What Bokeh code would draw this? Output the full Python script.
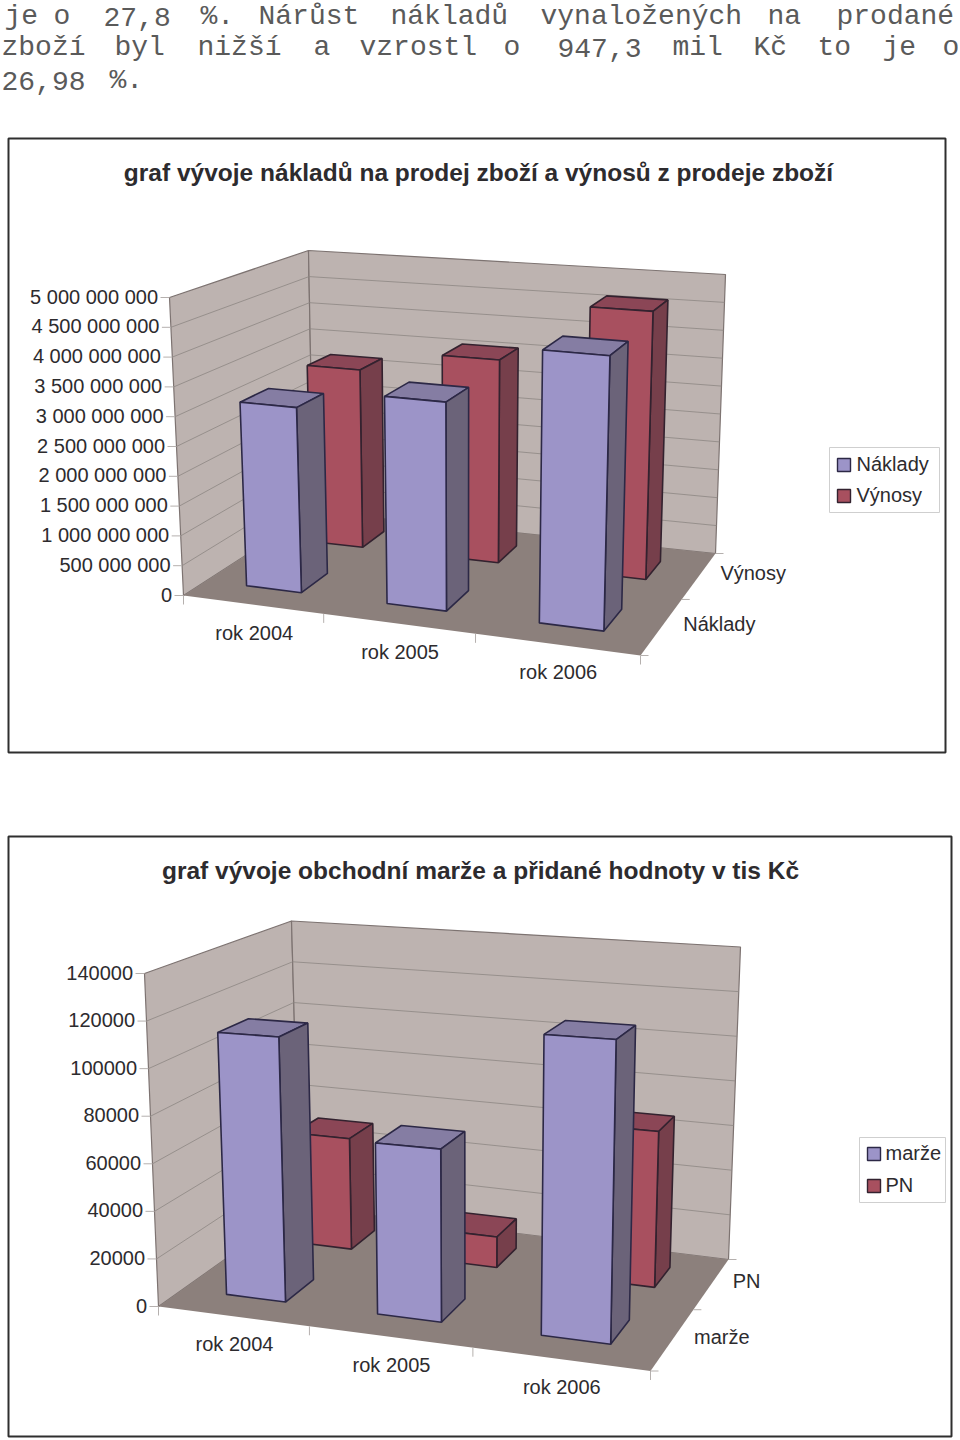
import numpy as np
from bokeh.plotting import figure
from bokeh.embed import file_html
from bokeh.resources import INLINE
from bokeh.core.properties import value

# ---- data ----
years = ["rok 2004", "rok 2005", "rok 2006"]
naklady = [3130000000, 3460000000, 4458000000]
vynosy = [3210000000, 3590000000, 4640000000]
marze = [112000, 71000, 121000]
pn = [50500, 13500, 67000]
ticks_1 = [0, 500000000, 1000000000, 1500000000, 2000000000, 2500000000,
           3000000000, 3500000000, 4000000000, 4500000000, 5000000000]
tick_labels_1 = ["0", "500 000 000", "1 000 000 000", "1 500 000 000", "2 000 000 000", "2 500 000 000",
                 "3 000 000 000", "3 500 000 000", "4 000 000 000", "4 500 000 000", "5 000 000 000"]
ticks_2 = [0, 20000, 40000, 60000, 80000, 100000, 120000, 140000]
tick_labels_2 = ["0", "20000", "40000", "60000", "80000", "100000", "120000", "140000"]
title_1 = "graf vývoje nákladů na prodej zboží a výnosů z prodeje zboží"
title_2 = "graf vývoje obchodní marže a přidané hodnoty v tis Kč"
series_1 = ["Náklady", "Výnosy"]
series_2 = ["marže", "PN"]
para_lines = [
    ["je", "o", "27,8", "%.", "Nárůst", "nákladů", "vynaložených", "na", "prodané"],
    ["zboží", "byl", "nižší", "a", "vzrostl", "o", "947,3", "mil", "Kč", "to", "je", "o"],
    ["26,98", "%."],
]
para_x = [
    [4, 53, 103, 200, 258, 390, 540, 767, 836],
    [1, 114, 197, 313, 359, 503, 557, 672, 753, 817, 882, 942],
    [1, 109],
]
para_y = [16, 47, 80]

# ---- styling ----
FONT = value("Liberation Sans")
INK = "#2d2b2e"
WALL, FLOOR, WALL_EDGE, GRID = "#bdb3b0", "#8c807c", "#7d7371", "#8d8683"
BLUE = dict(front="#9c94c8", side="#6b6379", top="#857da3", edge="#2c2846")
RED = dict(front="#a8505f", side="#763f4b", top="#8b4656", edge="#33222f")
K_U, K_V = 0.885, 1.22   # perspective foreshortening along the category and depth axes

p = figure(width=960, height=1440, x_range=(0, 960), y_range=(1440, 0),
           output_backend="svg", toolbar_location=None, min_border=0)
p.axis.visible = False
p.grid.visible = False
p.outline_line_color = None
p.background_fill_color = "white"


def warp(s, k):
    return s * k / (1 + s * (k - 1))


def make_proj(floor, top, vmax):
    floor, top = np.array(floor, float), np.array(top, float)

    def plane(q, u, v):
        a, b = warp(u, K_U), warp(v, K_V)
        return (q[0] * (1 - a) + q[1] * a) * (1 - b) + (q[3] * (1 - a) + q[2] * a) * b

    def proj(u, v, val):
        a, b = plane(floor, u, v), plane(top, u, v)
        return tuple(a + (b - a) * (val / vmax))
    return proj


def poly(pts, fill, line, lw=1.0):
    p.patch([a[0] for a in pts], [a[1] for a in pts], fill_color=fill, line_color=line, line_width=lw)


def seg(a, b, color, lw=1.0):
    p.line([a[0], b[0]], [a[1], b[1]], line_color=color, line_width=lw)


def label(x, y, s, size=20, align="left", color=INK, style="normal", font=FONT, baseline="middle"):
    p.text([x], [y], text=[s], text_font=font, text_font_size=f"{size}px", text_align=align,
           text_baseline=baseline, text_color=color, text_font_style=style)


def chart(frame, title, title_xy, title_size, floor, top, ticks, tick_labels, vmax, cats, names, vals, legend):
    x0, y0, x1, y1 = frame
    poly([(x0, y0), (x1, y0), (x1, y1), (x0, y1)], "white", "#2f2f2f", 2)
    label(title_xy[0], title_xy[1], title, size=title_size, align="center", style="bold")
    P = make_proj(floor, top, vmax)
    # walls and floor
    poly([P(0, 0, 0), P(0, 0, vmax), P(0, 1, vmax), P(0, 1, 0)], WALL, WALL_EDGE, 1.2)
    poly([P(0, 1, 0), P(0, 1, vmax), P(1, 1, vmax), P(1, 1, 0)], WALL, WALL_EDGE, 1.2)
    poly([P(0, 0, 0), P(1, 0, 0), P(1, 1, 0), P(0, 1, 0)], FLOOR, None)
    for t, s in zip(ticks, tick_labels):
        a, b, c = P(0, 0, t), P(0, 1, t), P(1, 1, t)
        if 0 < t < vmax:
            seg(a, b, GRID, 0.8)
            seg(b, c, GRID, 0.8)
        seg((a[0] - 9, a[1]), a, "#b5b0ae", 1)
        label(a[0] - 11.5, a[1] - 1, s, align="right")
    # floor ticks and labels
    n = len(cats)
    for k in range(n + 1):
        a = P(k / n, 0, 0)
        seg(a, (a[0], a[1] + 9), "#b5b0ae", 1)
    for i, c in enumerate(cats):
        a = P((i + 0.5) / n, 0, 0)
        label(a[0] + 2, a[1] + 28, c, align="center")
    for j in range(3):
        a = P(1, j / 2, 0)
        seg(a, (a[0] + 8, a[1]), "#b5b0ae", 1)
    for j, nm in enumerate(names):
        a = P(1, (j + 0.5) / 2, 0)
        label(a[0] + 21, a[1] - 2, nm)
    # bars: back row first, right to left
    for j in (1, 0):
        st = BLUE if j == 0 else RED
        for i in reversed(range(n)):
            v = vals[j][i]
            u0, u1 = (i + 0.3) / n, (i + 0.7) / n
            d0, d1 = (j + 0.3) / 2, (j + 0.7) / 2
            poly([P(u0, d0, v), P(u1, d0, v), P(u1, d1, v), P(u0, d1, v)], st["top"], st["edge"], 1.6)
            poly([P(u1, d0, 0), P(u1, d0, v), P(u1, d1, v), P(u1, d1, 0)], st["side"], st["edge"], 1.6)
            poly([P(u0, d0, 0), P(u0, d0, v), P(u1, d0, v), P(u1, d0, 0)], st["front"], st["edge"], 1.6)
    # legend
    lx0, ly0, lx1, ly1, sx, tx, rows = legend
    poly([(lx0, ly0), (lx1, ly0), (lx1, ly1), (lx0, ly1)], "white", "#cfcfcf", 1)
    for nm, ry, st in zip(names, rows, (BLUE, RED)):
        poly([(sx, ry - 6), (sx + 13, ry - 6), (sx + 13, ry + 7), (sx, ry + 7)], st["front"], st["edge"], 1.4)
        label(tx, ry - 1, nm)


# paragraph above the charts
for words, xs, y in zip(para_lines, para_x, para_y):
    for w, x in zip(words, xs):
        label(x, y, w, size=28, color="#5a5a5a", font=value("Liberation Mono"))

chart((8, 138, 945, 752), title_1, (478, 172), 24.5,
      [(183, 595), (640, 655), (715, 553), (313, 511)],
      [(169, 297), (649, 337), (725, 274), (308, 250)],
      ticks_1, tick_labels_1, 5000000000, years, series_1, [naklady, vynosy],
      (829, 447, 939, 512, 837, 856, (464, 495)))

chart((8, 836, 951, 1436), title_2, (480, 870), 24.5,
      [(158, 1306), (650, 1370.5), (728, 1259), (299, 1206)],
      [(144, 973), (658, 1005), (740, 946.5), (291, 920.5)],
      ticks_2, tick_labels_2, 140000, years, series_2, [marze, pn],
      (859, 1137, 945, 1202, 867, 885, (1153, 1185)))

open("out.html", "w").write(file_html(p, INLINE))
